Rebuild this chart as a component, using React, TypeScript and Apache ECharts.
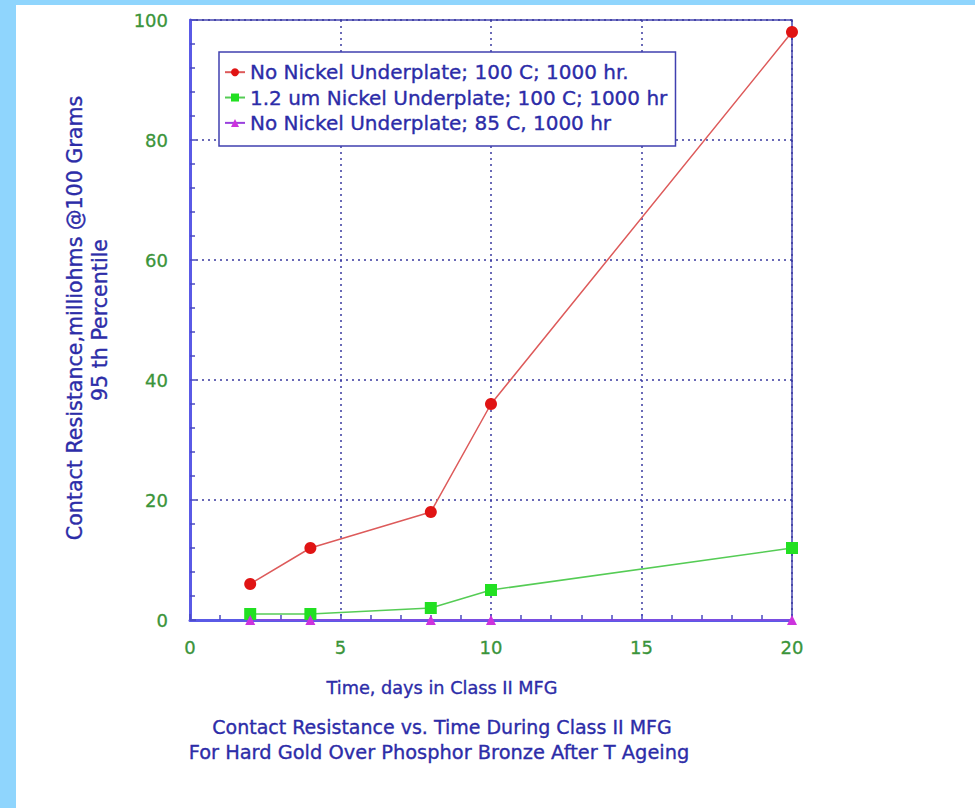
import React, { useEffect, useRef } from "react";
import * as echarts from "echarts";

const days = [2, 4, 8, 10, 20];
const noNickel100C = [6, 12, 18, 36, 98];
const nickel12um100C = [1, 1, 2, 5, 12];
const noNickel85C = [0, 0, 0, 0, 0];

const seriesNames = [
  "No Nickel Underplate; 100 C; 1000 hr.",
  "1.2 um Nickel Underplate; 100 C; 1000 hr",
  "No Nickel Underplate; 85 C, 1000 hr",
];

const xTitle = "Time, days in Class II MFG";
const yTitle1 = "Contact Resistance,milliohms @100 Grams";
const yTitle2 = "95 th Percentile";
const titleLines = [
  "Contact Resistance vs. Time During Class II MFG",
  "For Hard Gold Over Phosphor Bronze After T Ageing",
];

const FONT = "DejaVu Sans";
const TEXT_BLUE = "#2c2ca8";
const LABEL_GREEN = "#3a943a";

function zip(xs: number[], ys: number[]) {
  return xs.map((x, i) => [x, ys[i]]);
}

function blueText(text: string, x: number, y: number, size: number, rotate = false) {
  return {
    type: "text",
    x,
    y,
    rotation: rotate ? Math.PI / 2 : 0,
    style: {
      text,
      fill: TEXT_BLUE,
      stroke: TEXT_BLUE,
      lineWidth: 0.35,
      font: `${size}px "${FONT}"`,
      textAlign: "center",
      textVerticalAlign: "middle",
    },
  };
}

export default function App() {
  const ref = useRef<HTMLDivElement>(null);
  useEffect(() => {
    if (!ref.current) return;
    const chart = echarts.init(ref.current, null, { renderer: "svg" });
    chart.setOption({
      animation: false,
      backgroundColor: "#ffffff",
      grid: {
        left: 190,
        top: 20,
        right: 183,
        bottom: 188,
        show: true,
        borderColor: "#4646b0",
        borderWidth: 1.5,
        backgroundColor: "transparent",
      },
      legend: {
        orient: "vertical",
        left: 219,
        top: 52,
        padding: [10, 8, 13, 5],
        itemGap: 5,
        itemWidth: 20,
        itemHeight: 10,
        borderColor: "#4040b0",
        borderWidth: 1.5,
        backgroundColor: "#ffffff",
        textStyle: {
          color: TEXT_BLUE,
          fontSize: 20,
          fontFamily: FONT,
          textBorderColor: TEXT_BLUE,
          textBorderWidth: 0.35,
        },
        data: seriesNames,
      },
      xAxis: {
        type: "value",
        min: 0,
        max: 20,
        interval: 5,
        axisLine: { show: true, onZero: false, lineStyle: { color: "#5a5ae6", width: 3 } },
        axisTick: { show: true, inside: true, length: 6, lineStyle: { color: "#4a4ac0", width: 1.5 } },
        minorTick: { show: true, splitNumber: 5, length: 5, lineStyle: { color: "#4a4ac0", width: 1.5 } },
        axisLabel: {
          color: LABEL_GREEN,
          fontSize: 18,
          fontFamily: FONT,
          margin: 18,
          textBorderColor: LABEL_GREEN,
          textBorderWidth: 0.3,
        },
        splitLine: { show: true, lineStyle: { color: "#3a3aa0", type: [2, 4], width: 1.5 } },
      },
      yAxis: {
        type: "value",
        min: 0,
        max: 100,
        interval: 20,
        axisLine: { show: true, onZero: false, lineStyle: { color: "#5a5ae6", width: 3 } },
        axisTick: { show: true, inside: true, length: 6, lineStyle: { color: "#4a4ac0", width: 1.5 } },
        minorTick: { show: true, splitNumber: 5, length: 5, lineStyle: { color: "#4a4ac0", width: 1.5 } },
        axisLabel: {
          color: LABEL_GREEN,
          fontSize: 18,
          fontFamily: FONT,
          margin: 22,
          textBorderColor: LABEL_GREEN,
          textBorderWidth: 0.3,
        },
        splitLine: { show: true, lineStyle: { color: "#3a3aa0", type: [2, 4], width: 1.5 } },
      },
      series: [
        {
          name: seriesNames[0],
          type: "line",
          data: zip(days, noNickel100C),
          symbol: "circle",
          symbolSize: 12,
          clip: false,
          itemStyle: { color: "#e01414" },
          lineStyle: { color: "#dd5a5a", width: 1.5 },
        },
        {
          name: seriesNames[1],
          type: "line",
          data: zip(days, nickel12um100C),
          symbol: "rect",
          symbolSize: 12,
          clip: false,
          itemStyle: { color: "#22e022" },
          lineStyle: { color: "#55cc55", width: 1.5 },
        },
        {
          name: seriesNames[2],
          type: "line",
          data: zip(days, noNickel85C),
          symbol: "triangle",
          symbolSize: 10,
          clip: false,
          itemStyle: { color: "#cc33dd" },
          lineStyle: { color: "#9a40dd", width: 1 },
        },
      ],
      graphic: [
        { type: "rect", shape: { x: 0, y: 0, width: 16, height: 808 }, style: { fill: "#8fd5fd" }, silent: true },
        { type: "rect", shape: { x: 0, y: 0, width: 975, height: 5 }, style: { fill: "#8fd5fd" }, silent: true },
        blueText(yTitle1, 75, 318, 20.6, true),
        blueText(yTitle2, 100, 320, 20.6, true),
        blueText(xTitle, 442, 688, 17.7),
        blueText(titleLines[0], 442, 727, 19),
        blueText(titleLines[1], 439, 752, 19.4),
      ],
    });
    return () => chart.dispose();
  }, []);
  return (
    <div
      ref={ref}
      style={{ position: "absolute", left: 0, top: 0, width: 975, height: 808, background: "#ffffff" }}
    />
  );
}
